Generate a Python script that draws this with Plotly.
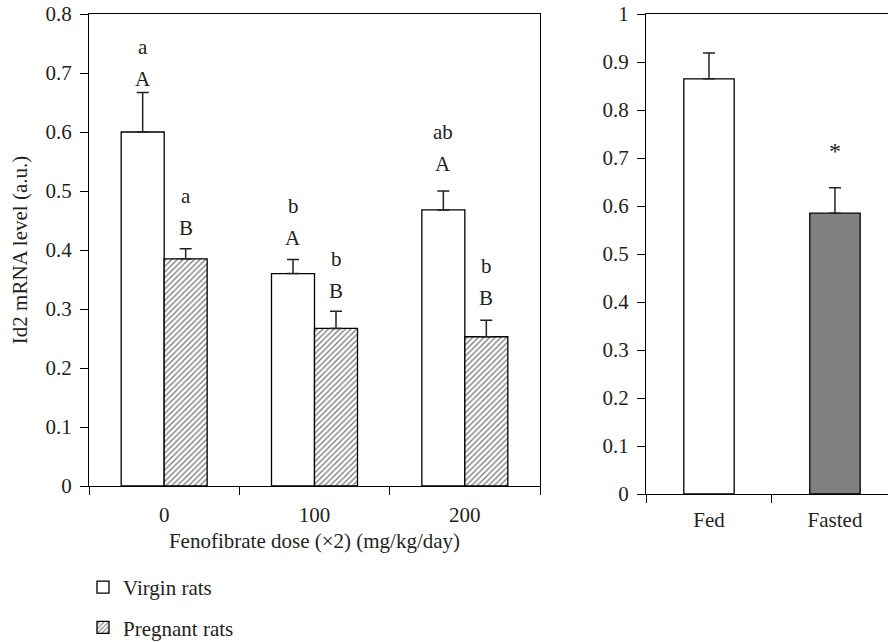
import plotly.graph_objects as go

# ---- data ----
doses = ["0", "100", "200"]
virgin = [0.600, 0.360, 0.468]
virgin_err = [0.067, 0.024, 0.032]
pregnant = [0.385, 0.267, 0.253]
pregnant_err = [0.017, 0.029, 0.028]
virgin_lower = ["a", "b", "ab"]
virgin_upper = ["A", "A", "A"]
pregnant_lower = ["a", "b", "b"]
pregnant_upper = ["B", "B", "B"]

conditions = ["Fed", "Fasted"]
cond_vals = [0.865, 0.585]
cond_err = [0.054, 0.053]
cond_marks = ["", "*"]

FONT = "Liberation Serif"
FS = 21
TXT = "#231f20"
W, H = 888, 642

fig = go.Figure()

fig.add_trace(go.Bar(
    x=doses, y=virgin, name="Virgin rats", xaxis="x", yaxis="y",
    marker=dict(color="white", line=dict(color="black", width=1.3)),
    error_y=dict(type="data", symmetric=False, array=virgin_err,
                 arrayminus=[0] * len(virgin), color="#222", thickness=1.5, width=6),
    legendgroup="v",
))
fig.add_trace(go.Bar(
    x=doses, y=pregnant, name="Pregnant rats", xaxis="x", yaxis="y",
    marker=dict(color="white", line=dict(color="black", width=1.3),
                pattern=dict(shape="/", fgcolor="black", bgcolor="white", size=4, solidity=0.35)),
    error_y=dict(type="data", symmetric=False, array=pregnant_err,
                 arrayminus=[0] * len(pregnant), color="#222", thickness=1.5, width=6),
    legendgroup="p",
))
fig.add_trace(go.Bar(
    x=conditions, y=cond_vals, xaxis="x2", yaxis="y2", width=0.4, showlegend=False,
    marker=dict(color=["white", "#808080"], line=dict(color="black", width=1.3)),
    error_y=dict(type="data", symmetric=False, array=cond_err,
                 arrayminus=[0] * len(cond_vals), color="#222", thickness=1.5, width=6),
))

# letter annotations above bars
off = 0.143
cap_shift = [13, 21, 21, 20, 27, 22]
ann = []
for i in range(3):
    for j, (vals, errs, lo, up, dx) in enumerate([
        (virgin, virgin_err, virgin_lower, virgin_upper, -off),
        (pregnant, pregnant_err, pregnant_lower, pregnant_upper, off),
    ]):
        s = cap_shift[i * 2 + j]
        top = vals[i] + errs[i]
        ann.append(dict(x=i + dx, y=top, xref="x", yref="y", text=up[i], showarrow=False,
                        yanchor="middle", yshift=s, font=dict(family=FONT, size=FS, color=TXT)))
        ann.append(dict(x=i + dx, y=top, xref="x", yref="y", text=lo[i], showarrow=False,
                        yanchor="middle", yshift=s + 32, font=dict(family=FONT, size=FS, color=TXT)))
for k in range(len(conditions)):
    if cond_marks[k]:
        ann.append(dict(x=k, y=cond_vals[k] + cond_err[k], xref="x2", yref="y2",
                        text=cond_marks[k], showarrow=False, yanchor="middle", yshift=37,
                        font=dict(family=FONT, size=24, color=TXT)))

axis_common = dict(showline=True, linecolor="black", linewidth=1.3, ticks="outside",
                   tickcolor="black", tickwidth=1.3, showgrid=False, zeroline=False,
                   tickfont=dict(family=FONT, size=FS, color=TXT))

fig.update_layout(
    width=W, height=H, margin=dict(l=0, r=0, t=0, b=0, autoexpand=False),
    paper_bgcolor="white", plot_bgcolor="white",
    barmode="group", bargap=0.428, bargroupgap=0,
    font=dict(family=FONT, size=FS, color=TXT),
    xaxis=dict(**axis_common, domain=[89 / W, 540 / W], anchor="y", type="category",
               range=[-0.5, 2.5], tickson="boundaries", ticklen=8, mirror=True,
               ticklabelstandoff=10,
               title=dict(text="Fenofibrate dose (×2) (mg/kg/day)", standoff=6,
                          font=dict(family=FONT, size=FS, color=TXT))),
    yaxis=dict(**axis_common, domain=[1 - 486 / H, 1 - 14 / H], anchor="x",
               range=[0, 0.8], dtick=0.1, ticklen=8, mirror=True, ticklabelstandoff=4,
               title=dict(text="Id2 mRNA level (a.u.)", standoff=12,
                          font=dict(family=FONT, size=FS, color=TXT))),
    xaxis2=dict(**axis_common, domain=[646 / W, 1.0], anchor="y2", type="category",
                range=[-0.5, 1.421], tickson="boundaries", ticklen=8, mirror=True,
                ticklabelstandoff=7),
    yaxis2=dict(**axis_common, domain=[1 - 494 / H, 1 - 14 / H], anchor="x2",
                range=[0, 1.0], dtick=0.1, ticklen=8, ticklabelstandoff=4),
    legend=dict(x=83 / W, y=1 - 567 / H, xanchor="left", yanchor="top",
                font=dict(family=FONT, size=FS, color=TXT), tracegroupgap=10,
                bgcolor="rgba(0,0,0,0)"),
    annotations=ann,
)

fig.write_html("out.html", config={"displayModeBar": False},
               post_script="document.body.style.margin='0';")
